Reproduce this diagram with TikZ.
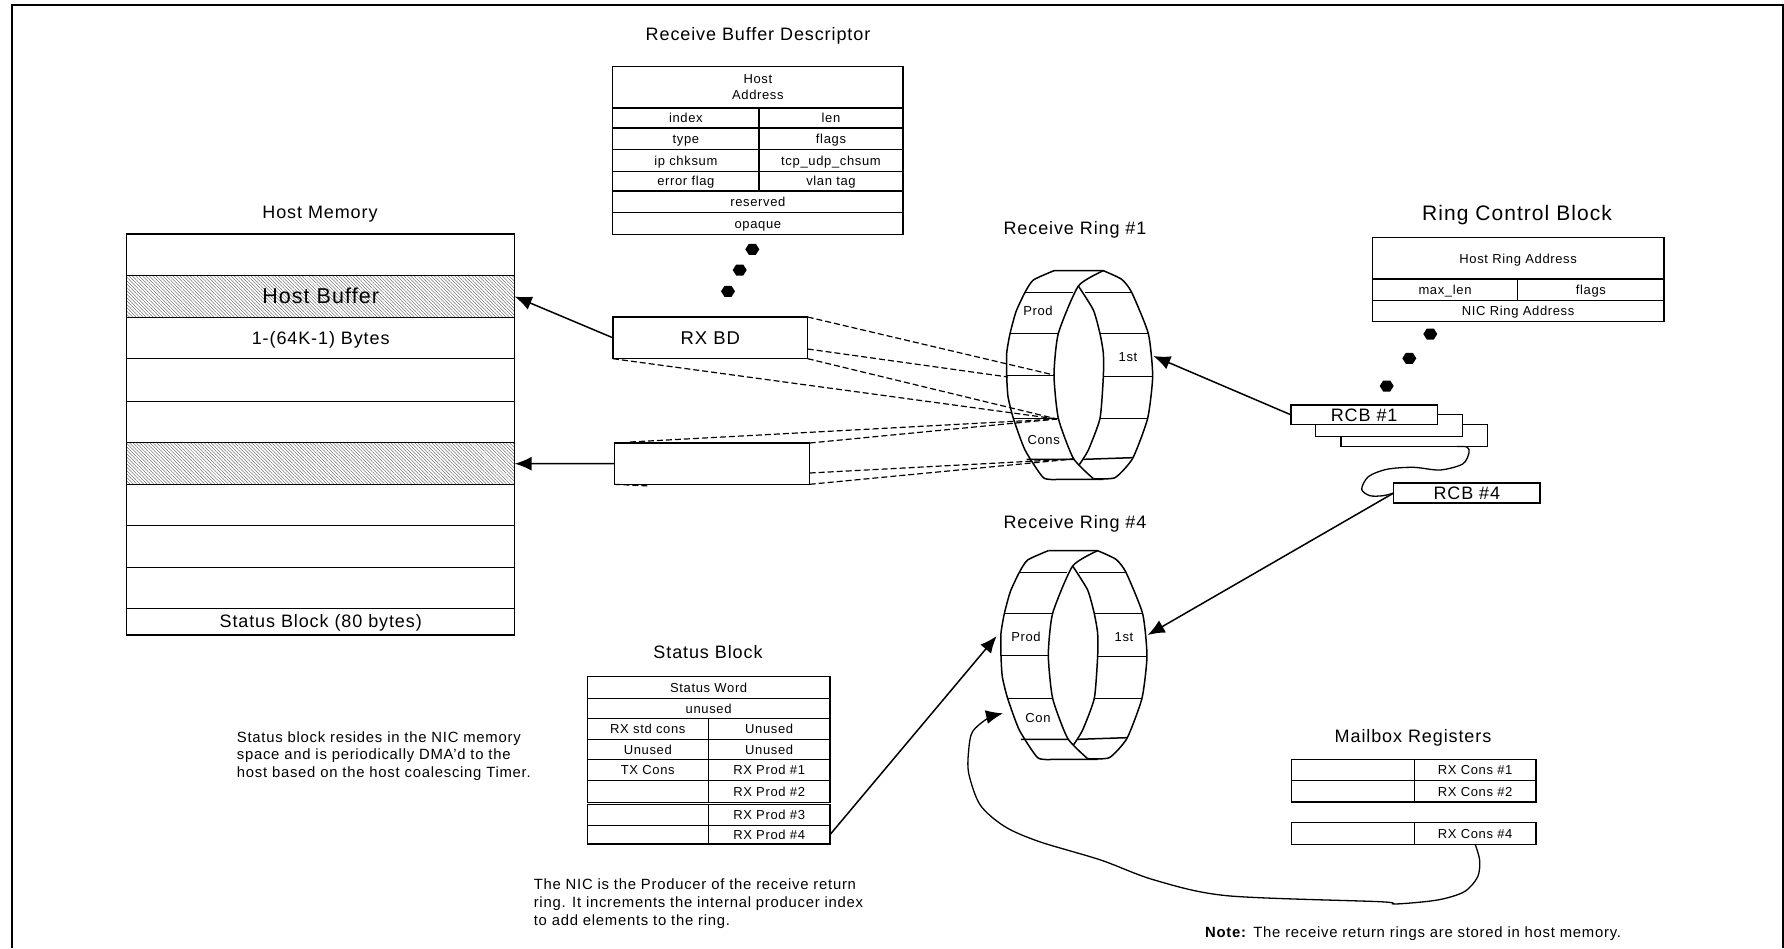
\documentclass[tikz,border=0pt]{standalone}
\usepackage{fontspec}
\setmainfont[LetterSpace=5]{Liberation Sans}
\usetikzlibrary{arrows.meta,patterns.meta}
\newcommand{\fsz}[1]{\fontsize{#1pt}{#1pt}\selectfont}
\tikzset{
  lw/.style={line width=1.5pt},
  cell/.style={draw,lw,fill=white,rectangle,inner sep=0pt,outer sep=0pt,anchor=north west,font=\fsz{13},text=black,text height=9.5pt,text depth=0pt},
  big/.style={font=\fsz{18},text height=13pt},
  hatched/.style={pattern={Lines[angle=-45,distance=2.4pt,line width=.35pt]},pattern color=black!70},
  title/.style={inner sep=0pt,font=\fsz{18},text=black},
  ringtext/.style={inner sep=0pt,font=\fsz{13},text=black},
  para/.style={inner sep=0pt,anchor=north west,align=left,font=\fontsize{14.85pt}{18pt}\selectfont,text=black},
  arrowline/.style={draw,line width=1.5pt,-{Latex[length=17pt,width=14pt]}},
  plainline/.style={draw,line width=1.3pt},
  dashline/.style={draw,line width=1.2pt,dash pattern=on 6pt off 3pt},
}
% name, x1, y1, x2, y2, options, text
\newcommand{\cellbox}[7]{\node[cell,#6,minimum width={(#4-#2)*1pt},minimum height={(#5-#3)*1pt}] (#1) at (#2,#3) {#7};}
\newcommand{\hexdot}[2]{\fill (#1-7,#2) -- (#1-3.5,#2-5.5) -- (#1+3.5,#2-5.5) -- (#1+7,#2) -- (#1+3.5,#2+5.5) -- (#1-3.5,#2+5.5) -- cycle;}
\newcommand{\ringdraw}{%
  \draw[lw,line join=round] plot[smooth,tension=.35] coordinates {(222,92) (160,120) (135,157) (108,215) (90,281) (80,340) (80,406) (84,470) (100,535) (135,630) (190,713) (235,718)} -- (370,718);
  \draw[lw,line join=round] plot[smooth,tension=.35] coordinates {(340,716) (405,713) (458,655) (503,535) (518,408) (505,281) (455,157) (425,118) (370,92)} -- (222,92);
  \draw[lw,line join=round] plot[smooth,tension=.35] coordinates {(370,92) (295,138) (235,280) (222,405) (235,535) (280,655) (340,716)};
  \draw[lw,line join=round] plot[smooth,tension=.35] coordinates {(295,138) (340,210) (360,281) (370,340) (370,410) (360,535) (325,630) (298,674)};
  \draw[lw] (135,157) -- (278,157) (315,157) -- (455,157);
  \draw[lw] (90,281) -- (235,281) (360,281) -- (505,281);
  \draw[lw] (80,406) -- (222,406) (370,410) -- (518,410);
  \draw[lw] (100,535) -- (235,535) (360,535) -- (503,535);
  \draw[lw] (140,658) -- (283,658) (310,658) -- (458,653);
}
\begin{document}
\begin{tikzpicture}[x=1pt,y=-1pt]
\useasboundingbox (0,0) rectangle (1784,948);
\fill[white] (0,0) rectangle (1784,948);
% frame
\draw[line width=2pt] (12,948) -- (12,5) -- (1783,5) -- (1783,948);

% titles
\node[title] (t1) at (758,36) {Receive Buffer Descriptor};
\node[title] (t2) at (320,214) {Host Memory};
\node[title] (t3) at (1075,230) {Receive Ring \#1};
\node[title,font=\fsz{21}] (t4) at (1517,215) {Ring Control Block};
\node[title] (t5) at (1075,524) {Receive Ring \#4};
\node[title] (t6) at (708,652) {Status Block};
\node[title] (t7) at (1413,738) {Mailbox Registers};

% host memory
\cellbox{hm0}{126.7}{234}{514.7}{275.7}{}{}
\cellbox{hostbuf}{126.7}{275.7}{514.7}{317.3}{hatched,font=\fsz{21.5},text height=13pt}{Host Buffer}
\cellbox{hm2}{126.7}{317.3}{514.7}{358.3}{big}{1-(64K-1) Bytes}
\cellbox{hm3}{126.7}{358.3}{514.7}{401.7}{}{}
\cellbox{hm4}{126.7}{401.7}{514.7}{442.7}{}{}
\cellbox{hostbufb}{126.7}{442.7}{514.7}{484.7}{hatched}{}
\cellbox{hm6}{126.7}{484.7}{514.7}{525.7}{}{}
\cellbox{hm7}{126.7}{525.7}{514.7}{567.7}{}{}
\cellbox{hm8}{126.7}{567.7}{514.7}{608.7}{}{}
\cellbox{hm9}{126.7}{608.7}{514.7}{635}{big,text height=10.5pt}{Status Block (80 bytes)}

% descriptor
\cellbox{d0}{612.7}{66.7}{903}{107.3}{align=center,font=\fontsize{13pt}{16pt}\selectfont,text height=,text depth=}{Host\\Address}
\cellbox{d1}{612.7}{107.8}{759}{128}{}{index}
\cellbox{d2}{759}{107.8}{903}{128}{}{len}
\cellbox{d3}{612.7}{128}{759}{149.3}{}{type}
\cellbox{d4}{759}{128}{903}{149.3}{}{flags}
\cellbox{d5}{612.7}{149.3}{759}{171.3}{}{ip chksum}
\cellbox{d6}{759}{149.3}{903}{171.3}{}{tcp\_udp\_chsum}
\cellbox{d7}{612.7}{171.3}{759}{191}{}{error flag}
\cellbox{d8}{759}{171.3}{903}{191}{}{vlan tag}
\cellbox{d9}{612.7}{191}{903}{212.7}{}{reserved}
\cellbox{d10}{612.7}{212.7}{903}{234.3}{}{opaque}
\hexdot{752.3}{249.3}
\hexdot{739.7}{270}
\hexdot{728}{291.3}

% ring control block
\cellbox{c0}{1372.3}{237.7}{1664}{279}{}{Host Ring Address}
\cellbox{c1}{1372.3}{279}{1517.7}{300.3}{}{max\_len}
\cellbox{c2}{1517.7}{279}{1664}{300.3}{}{flags}
\cellbox{c3}{1372.3}{300.3}{1664}{321.7}{}{NIC Ring Address}
\hexdot{1430.3}{334}
\hexdot{1409.3}{358.3}
\hexdot{1386.7}{386}

% RCB stack
\cellbox{rcbc}{1341}{424.7}{1487.7}{446.7}{}{}
\cellbox{rcbb}{1315.7}{414.7}{1462.3}{436.7}{}{}
\cellbox{rcba}{1291}{405}{1437.3}{424.7}{big}{RCB \#1}
\cellbox{rcbd}{1393.7}{483}{1540}{503}{big}{RCB \#4}

% RX BD boxes
\cellbox{rxbd}{613}{317}{807.7}{358.7}{big,font=\fsz{18.5}}{RX BD}
\cellbox{rxbdb}{614.3}{443}{809.7}{484.3}{}{}

% status block
\cellbox{s0}{587.3}{676.7}{830}{698.3}{}{Status Word}
\cellbox{s1}{587.3}{698.3}{830}{718.3}{}{unused}
\cellbox{s2}{587.3}{718.3}{708.3}{739.3}{}{RX std cons}
\cellbox{s3}{708.3}{718.3}{830}{739.3}{}{Unused}
\cellbox{s4}{587.3}{739.3}{708.3}{759.3}{}{Unused}
\cellbox{s5}{708.3}{739.3}{830}{759.3}{}{Unused}
\cellbox{s6}{587.3}{759.3}{708.3}{780.3}{}{TX Cons}
\cellbox{s7}{708.3}{759.3}{830}{780.3}{}{RX Prod \#1}
\cellbox{s8}{587.3}{780.3}{708.3}{802.3}{}{}
\cellbox{s9}{708.3}{780.3}{830}{802.3}{}{RX Prod \#2}
\cellbox{s10}{587.3}{804.3}{708.3}{825.3}{}{}
\cellbox{s11}{708.3}{804.3}{830}{825.3}{}{RX Prod \#3}
\cellbox{s12}{587.3}{825.3}{708.3}{844}{}{}
\cellbox{s13}{708.3}{825.3}{830}{844}{}{RX Prod \#4}

% mailbox
\cellbox{m0}{1291.3}{759.3}{1414.5}{780.7}{}{}
\cellbox{m1}{1414.5}{759.3}{1535.8}{780.7}{}{RX Cons \#1}
\cellbox{m2}{1291.3}{780.7}{1414.5}{802}{}{}
\cellbox{m3}{1414.5}{780.7}{1535.8}{802}{}{RX Cons \#2}
\cellbox{m4}{1291.3}{822.7}{1414.5}{844.3}{}{}
\cellbox{m5}{1414.5}{822.7}{1535.8}{844.3}{}{RX Cons \#4}

% rings
\begin{scope}[shift={(980,240)},x=.33333pt,y=-.33333pt]
\ringdraw
\end{scope}
\begin{scope}[shift={(974.3,520)},x=.33333pt,y=-.33333pt]
\ringdraw
\end{scope}
\node[ringtext] (l1) at (1038,310.7) {Prod};
\node[ringtext] (l2) at (1128,356.7) {1st};
\node[ringtext] (l3) at (1043.7,440) {Cons};
\node[ringtext] (l4) at (1026,637) {Prod};
\node[ringtext] (l5) at (1124,637) {1st};
\node[ringtext] (l6) at (1038,718) {Con};

% named connector ends
\coordinate (r1a) at (1054,375);
\coordinate (r1b) at (1008,377);
\coordinate (r1c) at (1057,419);
\coordinate (r1d) at (1073,459);
\coordinate (rxr) at (807.7,349);
\coordinate (b2a) at (630,442);
\coordinate (b2r) at (809.7,473);
\coordinate (b2s) at (650,486);
\coordinate (ring1in) at (1153.3,356);
\coordinate (ring4r) at (1147.7,635);
\coordinate (ring4l) at (996.7,636);
\coordinate (ring4c) at (1003,713.3);

% dashed
\draw[dashline] (rxbd.north east) -- (r1a);
\draw[dashline] (rxr) -- (r1b);
\draw[dashline] (rxbd.south east) -- (r1c);
\draw[dashline] (rxbd.south west) -- (r1c);
\draw[dashline] (b2a) -- (r1c);
\draw[dashline] (rxbdb.north east) -- (r1c);
\draw[dashline] (b2r) -- (r1d);
\draw[dashline] (rxbdb.south east) -- (r1d);
\draw[dashline] (rxbdb.south west) -- (b2s);

% arrows
\draw[arrowline] (rxbd.west) -- (hostbuf.east);
\draw[arrowline] (rxbdb.west) -- (hostbufb.east);
\draw[arrowline] (rcba.west) -- (ring1in);
\draw[arrowline] (rcbd.west) -- (ring4r);
\draw[arrowline] (s13.east) -- (ring4l);
\draw[plainline] plot[smooth,tension=.5] coordinates {(1457,446.5) (1467,447) (1469,452.7) (1462.7,464) (1440,470) (1413.3,467.3) (1386.7,469.3) (1368.3,476.7) (1361.7,489.3) (1370,495.7) (1383,495.7) (rcbd.west)};
\draw[arrowline,line width=1.3pt] plot[smooth,tension=.5] coordinates {(m5.south) (1479.6,860) (1477.7,876.7) (1464.3,891.7) (1437.5,900) (1395.4,904) (1380,901.7) (1227,895.7) (1154.3,880) (1100.7,860) (1039.5,841.7) (1005,826.7) (980.2,805) (968.7,773.3) (968.7,750) (972.5,731.7) (987.8,718.3) (ring4c)};

% paragraphs
\node[para,font=\fontsize{14.85pt}{17.3pt}\selectfont] (p1) at (236.7,731.5) {Status block resides in the NIC memory\\space and is periodically DMA'd to the\\host based on the host coalescing Timer.};
\node[para] (p2) at (533.6,879) {The NIC is the Producer of the receive return\\ring.  It increments the internal producer index\\to add elements to the ring.};
\node[para] (p3) at (1205,926.5) {\textbf{Note:} The receive return rings are stored in host memory.};
\end{tikzpicture}
\end{document}
